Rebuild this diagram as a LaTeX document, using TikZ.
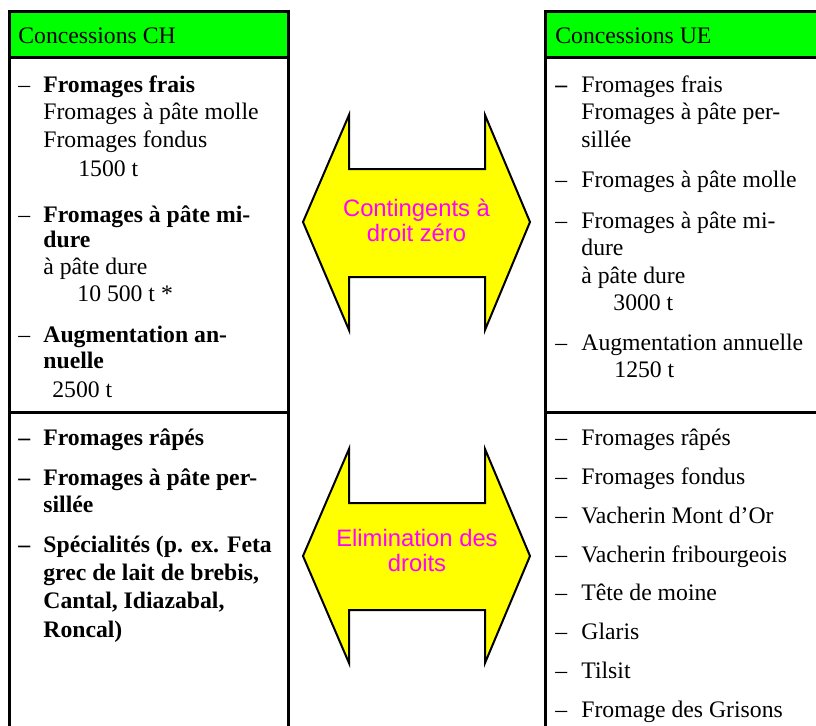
\documentclass[tikz,border=0pt]{standalone}
\usepackage{fontspec}
\setmainfont{Liberation Serif}
\setsansfont{Liberation Sans}
\usetikzlibrary{positioning}
\definecolor{headgreen}{RGB}{0,255,0}
\definecolor{arrowyellow}{RGB}{255,255,0}
\definecolor{labelmagenta}{RGB}{255,0,255}
\tikzset{
  box/.style={line width=1.5pt},
  head/.style={draw=black, fill=headgreen, line width=1.5pt},
  txt/.style={anchor=base west, inner sep=0pt, font=\fontsize{11.85}{13.75}\selectfont},
  btxt/.style={txt, font=\fontsize{11.85}{13.75}\selectfont\bfseries},
  arrowshape/.style={draw=black, fill=arrowyellow, line width=1pt, line join=miter},
  arrowtext/.style={font=\sffamily\fontsize{11.9}{12.5}\selectfont, text=labelmagenta, align=center, inner sep=0pt}
}
\begin{document}
\begin{tikzpicture}[x=0.5pt,y=-0.5pt]
		%%%%% FRAME %%%%%
		\useasboundingbox (0,0) rectangle (816,725);
		\clip (0,0) rectangle (816,725);
		
		% Concessions CH
		\draw[head] (9,11) rectangle (288,57);
		\draw[box] (9,11) -- (9,730);
		\draw[box] (288,11) -- (288,730);
		\draw[box] (9,412) -- (288,412);
		
		% Concessions UE
		\draw[head] (545,11) rectangle (830,57);
		\draw[box] (545,11) -- (545,730);
		\draw[box] (545,412) -- (830,412);
		
		%%%%% ARROWS %%%%%
		\draw[arrowshape] (303,222) -- (349,115) -- (349,169) -- (485,169) -- (485,115) -- (530,222)
			-- (485,330) -- (485,277) -- (349,277) -- (349,330) -- cycle;
		\node[arrowtext] (zero) at (416.5,220.5) {Contingents à\\droit zéro};
		
		\draw[arrowshape] (303,556) -- (349,449) -- (349,503) -- (485,503) -- (485,449) -- (530,556)
			-- (485,663) -- (485,610) -- (349,610) -- (349,663) -- cycle;
		\node[arrowtext] (elim) at (417,550.5) {Elimination des\\droits};
		
		%%%%% CH %%%%%
		\node[txt] (chhead) at (18,43) {Concessions CH};
		
		\node[txt] (chd1) at (18,92) {–};
		\node[btxt] (ch1) at (43,92) {Fromages frais};
		\node[txt] (ch1b) at (43,119) {Fromages à pâte molle};
		\node[txt] (ch1c) at (43,147) {Fromages fondus};
		\node[txt] (ch1t) at (78,176) {1500 t};
		
		\node[txt] (chd2) at (18,222) {–};
		\node[btxt] (ch2) at (43,222) {Fromages à pâte mi-};
		\node[btxt] (ch2b) at (43,247) {dure};
		\node[txt] (ch2c) at (43,274) {à pâte dure};
		\node[txt] (ch2t) at (77,301) {10 500 t *};
		
		\node[txt] (chd3) at (18,342) {–};
		\node[btxt] (ch3) at (43,342) {Augmentation an-};
		\node[btxt] (ch3b) at (43,368) {nuelle};
		\node[txt] (ch3t) at (52,397) {2500 t};
		
		\node[btxt] (chd4) at (18,445) {–};
		\node[btxt] (ch4) at (43,445) {Fromages râpés};
		\node[btxt] (chd5) at (18,485) {–};
		\node[btxt] (ch5) at (43,485) {Fromages à pâte per-};
		\node[btxt] (ch5b) at (43,512) {sillée};
		\node[btxt] (chd6) at (18,552) {–};
		\node[btxt] (ch6) at (43,552) {Spécialités (p. ex. Feta};
		\node[btxt] (ch6b) at (43,580) {grec de lait de brebis,};
		\node[btxt] (ch6c) at (43,608) {Cantal, Idiazabal,};
		\node[btxt] (ch6d) at (43,637) {Roncal)};
		
		%%%%% UE %%%%%
		\node[txt] (uehead) at (555,43) {Concessions UE};
		
		\node[btxt] (ued1) at (555,92) {–};
		\node[txt] (ue1) at (581,92) {Fromages frais};
		\node[txt] (ue1b) at (581,119) {Fromages à pâte per-};
		\node[txt] (ue1c) at (581,147) {sillée};
		\node[txt] (ued2) at (555,187) {–};
		\node[txt] (ue2) at (581,187) {Fromages à pâte molle};
		\node[txt] (ued3) at (555,228) {–};
		\node[txt] (ue3) at (581,228) {Fromages à pâte mi-};
		\node[txt] (ue3b) at (581,255) {dure};
		\node[txt] (ue3c) at (581,283) {à pâte dure};
		\node[txt] (ue3t) at (613,310) {3000 t};
		\node[txt] (ued4) at (555,350) {–};
		\node[txt] (ue4) at (581,350) {Augmentation annuelle};
		\node[txt] (ue4t) at (614,377) {1250 t};
		
		\foreach \y/\t [count=\i] in {445/Fromages râpés, 484/Fromages fondus, 523/Vacherin Mont d’Or,
			562/Vacherin fribourgeois, 600/Tête de moine, 639/Glaris, 678/Tilsit, 717/Fromage des Grisons}
		{
			\node[txt] (ueld\i) at (555,\y) {–};
			\node[txt] (uel\i) at (581,\y) {\t};
		}
		
		%%%%% END %%%%%
	\end{tikzpicture}
\end{document}
